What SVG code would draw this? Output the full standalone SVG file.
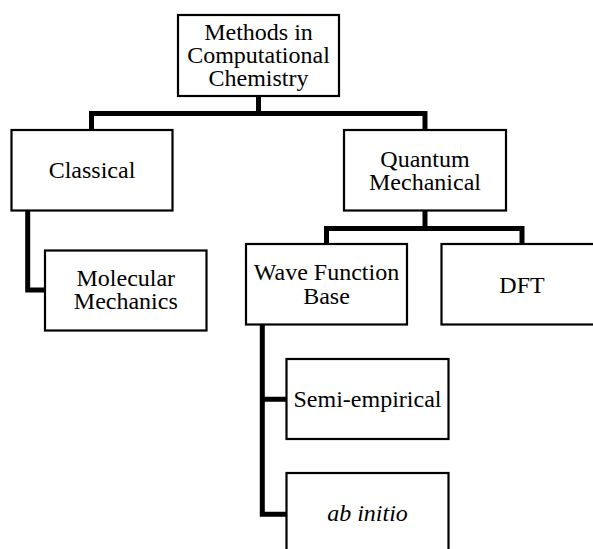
<svg xmlns="http://www.w3.org/2000/svg" width="593" height="549" viewBox="0 0 593 549">
<style>
.box{fill:#fff;stroke:#000;stroke-width:2.2}
.lbl{font-family:"Liberation Serif","Times New Roman",serif;font-size:24px;fill:#000;text-anchor:middle}
.it{font-style:italic}
.conn{fill:none;stroke:#000;stroke-width:5;stroke-linejoin:miter;stroke-linecap:butt}
</style>
<rect width="593" height="549" fill="#fff"/>
<g id="connectors">
<path class="conn" d="M258.5,96 V113.5 M91.5,130 V113.5 H425 V130"/>
<path class="conn" d="M27.7,210.5 V290 H45"/>
<path class="conn" d="M425,210.5 V228.5 M326.5,244 V228.5 H522 V244"/>
<path class="conn" d="M262.3,324.5 V514.3 H286.5 M262.3,399.3 H286.5"/>
</g>
<g id="methods">
<rect class="box" x="178" y="15" width="161" height="81"/>
<text class="lbl" x="258.5" y="39.5">Methods in</text>
<text class="lbl" x="258.5" y="62.5">Computational</text>
<text class="lbl" x="258.5" y="85.5">Chemistry</text>
</g>
<g id="classical">
<rect class="box" x="11.5" y="130" width="161" height="80.5"/>
<text class="lbl" x="92" y="177.5">Classical</text>
</g>
<g id="quantum">
<rect class="box" x="344" y="130" width="162" height="80.5"/>
<text class="lbl" x="425" y="166.7">Quantum</text>
<text class="lbl" x="425" y="189.5">Mechanical</text>
</g>
<g id="molecular">
<rect class="box" x="45" y="250.5" width="161.5" height="80"/>
<text class="lbl" x="125.8" y="286">Molecular</text>
<text class="lbl" x="125.8" y="309.3">Mechanics</text>
</g>
<g id="wave">
<rect class="box" x="246" y="244" width="161" height="80.5"/>
<text class="lbl" x="326.5" y="280">Wave Function</text>
<text class="lbl" x="326.5" y="304">Base</text>
</g>
<g id="dft">
<rect class="box" x="441.5" y="244" width="161" height="80.5"/>
<text class="lbl" x="522" y="292.7">DFT</text>
</g>
<g id="semi">
<rect class="box" x="286.5" y="359" width="162" height="80"/>
<text class="lbl" x="367.5" y="406.5">Semi-empirical</text>
</g>
<g id="abinitio">
<rect class="box" x="286.5" y="473" width="162" height="80"/>
<text class="lbl it" x="367.5" y="520.7">ab initio</text>
</g>
</svg>
